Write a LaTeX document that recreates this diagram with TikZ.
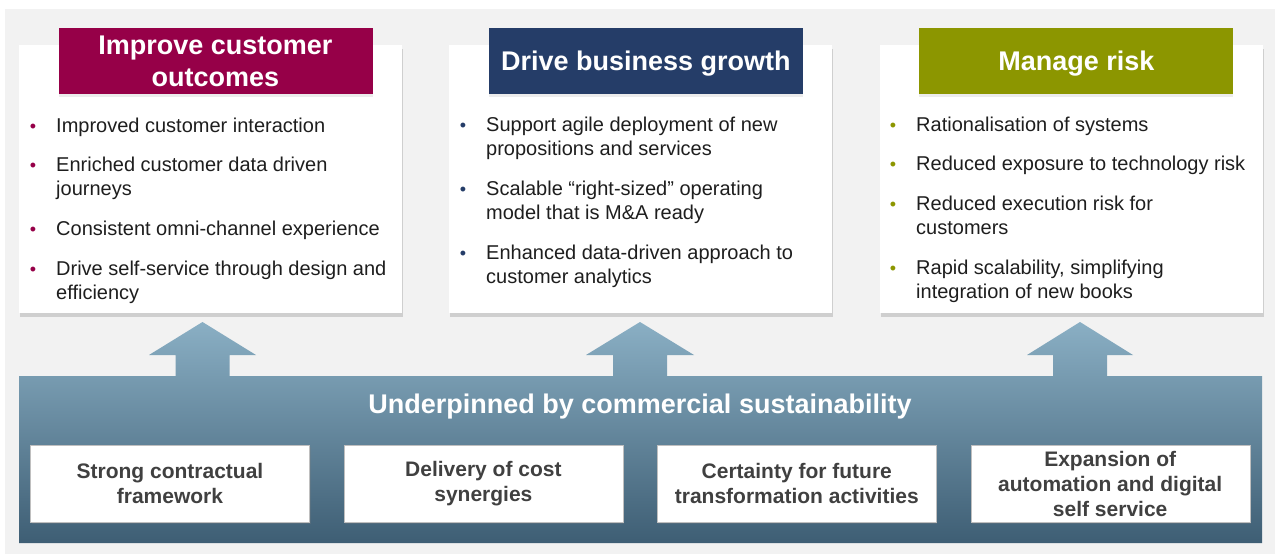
\documentclass[tikz,border=0pt]{standalone}
\usepackage{fontspec}
\setmainfont{Liberation Sans}
\usetikzlibrary{positioning,shadows}
\definecolor{BackClr}{HTML}{F2F2F2}
\definecolor{CustClr}{HTML}{960048}
\definecolor{GrowClr}{HTML}{253D68}
\definecolor{RiskClr}{HTML}{8C9600}
\definecolor{TextClr}{HTML}{1E1E1E}
\definecolor{BoxTextClr}{HTML}{404040}
\definecolor{BandTopClr}{RGB}{138,175,196}
\definecolor{BandBotClr}{RGB}{62,94,116}
\newcommand\itemdot[1]{\llap{\textcolor{#1}{\fontsize{18}{18}\selectfont\textbullet}\hspace{20pt}}}

\begin{document}
\begin{tikzpicture}[x=1pt,y=-1pt,
  card/.style={fill=white,minimum width=383pt,minimum height=268pt,inner sep=0pt,
    drop shadow={shadow xshift=1pt,shadow yshift=-4pt,opacity=.3}},
  header/.style={fill=#1,text=white,font=\fontsize{27}{32}\selectfont\bfseries,align=center,
    minimum width=314pt,minimum height=66pt,inner sep=0pt,anchor=north,
    drop shadow={shadow xshift=0pt,shadow yshift=-3pt,opacity=.15}},
  point/.style={anchor=base west,align=left,inner sep=0pt,text=TextClr,font=\fontsize{20}{24}\selectfont},
  pillar/.style={fill=white,draw=black!25,minimum width=279pt,minimum height=77pt,inner sep=0pt,
    align=center,text=BoxTextClr,font=\fontsize{21}{25}\selectfont\bfseries,
    drop shadow={shadow xshift=1pt,shadow yshift=-2pt,opacity=.25}}]

\useasboundingbox (0,0) rectangle (1275,554);
\fill[white] (0,0) rectangle (1275,554);
\fill[BackClr] (5,9) rectangle (1275,554);

% the three cards
\node[card] (cust) at (210.5,179) {};
\node[card,right=47pt of cust] (grow) {};
\node[card,right=47pt of grow] (risk) {};

\node[header=CustClr,xshift=5pt,yshift=17pt] (custhead) at (cust.north) {Improve customer\\outcomes};
\node[header=GrowClr,xshift=5pt,yshift=17pt,text depth=0pt] (growhead) at (grow.north) {Drive business growth};
\node[header=RiskClr,xshift=5pt,yshift=17pt,text depth=0pt] (riskhead) at (risk.north) {Manage risk};

% bullet points (placed at the baseline of their last line)
\node[point] (cust1) at (56,132) {\itemdot{CustClr}Improved customer interaction};
\node[point] (cust2) at (56,195) {\itemdot{CustClr}Enriched customer data driven\\journeys};
\node[point] (cust3) at (56,235) {\itemdot{CustClr}Consistent omni-channel experience};
\node[point] (cust4) at (56,299) {\itemdot{CustClr}Drive self-service through design and\\efficiency};

\node[point] (grow1) at (486,155) {\itemdot{GrowClr}Support agile deployment of new\\propositions and services};
\node[point] (grow2) at (486,219) {\itemdot{GrowClr}Scalable “right-sized” operating\\model that is M\&A ready};
\node[point] (grow3) at (486,283) {\itemdot{GrowClr}Enhanced data-driven approach to\\customer analytics};

\node[point] (risk1) at (916,131) {\itemdot{RiskClr}Rationalisation of systems};
\node[point] (risk2) at (916,170) {\itemdot{RiskClr}Reduced exposure to technology risk};
\node[point] (risk3) at (916,234) {\itemdot{RiskClr}Reduced execution risk for\\customers};
\node[point] (risk4) at (916,298) {\itemdot{RiskClr}Rapid scalability, simplifying\\integration of new books};

% base band with the three arrows
\path[top color=BandTopClr,bottom color=BandBotClr]
  (19,543) -- (19,376)
  -- (175.5,376) -- (175.5,355) -- (149,355) -- (202.5,322) -- (256,355) -- (229.5,355) -- (229.5,376)
  -- (613,376) -- (613,355) -- (586,355) -- (640,322) -- (694,355) -- (667,355) -- (667,376)
  -- (1053,376) -- (1053,355) -- (1027,355) -- (1080,322) -- (1133,355) -- (1107,355) -- (1107,376)
  -- (1262,376) -- (1262,543) -- cycle;

\node[text=white,font=\fontsize{27}{32}\selectfont\bfseries] (base) at (640,407) {Underpinned by commercial sustainability};

\node[pillar] (contract) at (170,483.5) {Strong contractual\\framework};
\node[pillar,right=34pt of contract] (synergy) {Delivery of cost\\synergies};
\node[pillar,right=34pt of synergy] (certain) {Certainty for future\\transformation activities};
\node[pillar,right=34pt of certain] (digital) {Expansion of\\automation and digital\\self service};

\end{tikzpicture}
\end{document}
